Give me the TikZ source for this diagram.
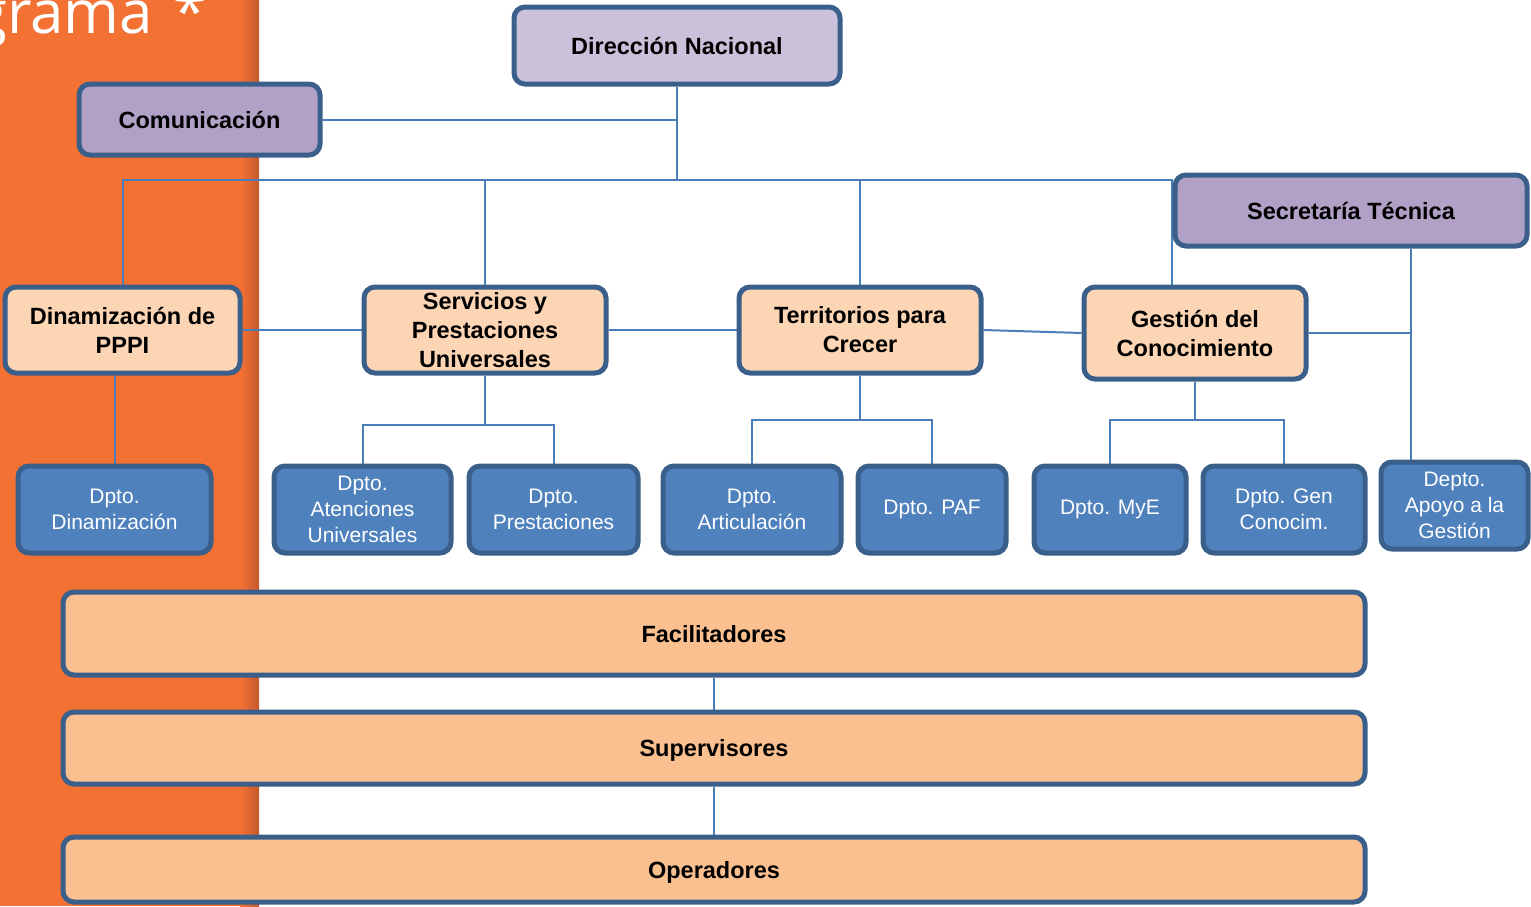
\documentclass[tikz,border=0pt]{standalone}
\usepackage{fontspec}
\setmainfont{Liberation Sans}
\newfontfamily\titlefont{Open Sans}
\definecolor{lav}{HTML}{CCC1DA}
\definecolor{purp}{HTML}{B2A1C7}
\definecolor{peach}{HTML}{FCD5B5}
\definecolor{deptc}{HTML}{4F81BD}
\definecolor{barc}{HTML}{FAC090}
\definecolor{bordc}{HTML}{3A5F8B}
\definecolor{linkc}{HTML}{4A7EBB}
\definecolor{orng}{HTML}{F47134}
\definecolor{orngdk}{HTML}{C45A2C}
\pgfdeclarelayer{bg}
\pgfsetlayers{bg,main}
\newlength\glyphgw
\newcommand\titlesize{\titlefont\fontsize{60}{60}\selectfont}
\tikzset{
  box/.style={draw=bordc, line width=5pt, rounded corners=11pt, inner sep=0pt, align=center},
  topbox/.style={box, fill=lav, font=\bfseries\fontsize{23.5}{29}\selectfont},
  sidebox/.style={box, fill=purp, font=\bfseries\fontsize{23.5}{29}\selectfont},
  unitbox/.style={box, fill=peach, font=\bfseries\fontsize{23.5}{29}\selectfont},
  deptbox/.style={box, fill=deptc, text=white, font=\fontsize{21}{26}\selectfont},
  barbox/.style={box, fill=barc, font=\bfseries\fontsize{23.5}{29}\selectfont, text depth=-3pt},
  link/.style={draw=linkc, line width=2pt}
}
\begin{document}
\settowidth\glyphgw{\titlesize g}%
\pgfmathsetmacro{\titlex}{7-\glyphgw}%
\begin{tikzpicture}[x=1pt,y=-1pt]
\useasboundingbox (0,0) rectangle (1531,906);
\clip (0,0) rectangle (1531,906);
% nodes
\node[topbox, minimum width=326pt, minimum height=77pt] (dn) at (677,45.5) {Dirección Nacional};
\node[sidebox, minimum width=241pt, minimum height=71pt] (com) at (199.5,119.5) {Comunicación};
\node[sidebox, minimum width=352pt, minimum height=71pt] (sec) at (1351,210.5) {Secretaría Técnica};
\node[unitbox, minimum width=235pt, minimum height=86pt] (din) at (122.5,330) {Dinamización de\\PPPI};
\node[unitbox, minimum width=242pt, minimum height=86pt] (ser) at (485,330) {Servicios y\\Prestaciones\\Universales};
\node[unitbox, minimum width=242pt, minimum height=86pt] (ter) at (860,330) {Territorios para\\Crecer};
\node[unitbox, minimum width=222pt, minimum height=92pt] (ges) at (1195,333) {Gestión del\\Conocimiento};
\node[deptbox, minimum width=193pt, minimum height=87pt] (d1) at (114.5,509.5) {Dpto.\\Dinamización};
\node[deptbox, minimum width=177pt, minimum height=87pt] (d2) at (362.5,509.5) {Dpto.\\Atenciones\\Universales};
\node[deptbox, minimum width=169pt, minimum height=87pt] (d3) at (553.5,509.5) {Dpto.\\Prestaciones};
\node[deptbox, minimum width=178pt, minimum height=87pt] (d4) at (752,509.5) {Dpto.\\Articulación};
\node[deptbox, minimum width=148pt, minimum height=87pt] (d5) at (932,509.5) {Dpto. PAF};
\node[deptbox, minimum width=152pt, minimum height=87pt] (d6) at (1110,509.5) {Dpto. MyE};
\node[deptbox, minimum width=162pt, minimum height=87pt] (d7) at (1284,509.5) {Dpto. Gen\\Conocim.};
\node[deptbox, minimum width=147pt, minimum height=87pt] (d8) at (1454.5,505.5) {Depto.\\Apoyo a la\\Gestión};
\node[barbox, minimum width=1302pt, minimum height=83pt] (fac) at (714,633.5) {Facilitadores};
\node[barbox, minimum width=1302pt, minimum height=72pt] (sup) at (714,748) {Supervisores};
\node[barbox, minimum width=1302pt, minimum height=65pt] (ope) at (714,869.5) {Operadores};
% background and connectors
\begin{pgfonlayer}{bg}
\fill[orng] (0,0) rectangle (241,906);
\shade[left color=orng, right color=orngdk] (240,0) rectangle (259,906);
\node[anchor=base west, inner sep=0pt, text=white, font=\titlesize] (title) at (\titlex,33) {grama\hspace{0.35em}*};
\coordinate (tl) at (122.5,180);
\coordinate (tr) at (1172,180);
\coordinate (sx) at (1411,0);
\draw[link] (din.north) -- (tl) -- (tr) -- (tr |- ges.north);
\draw[link] (dn.south) -- (dn.south |- tl);
\draw[link] (com.east) -- (com.east -| dn.south);
\draw[link] (ser.north) -- (ser.north |- tl);
\draw[link] (ter.north) -- (ter.north |- tl);
\draw[link] (din.east) -- (ser.west);
\draw[link] (ser.east) -- (ter.west);
\draw[link] (ter.east) -- (ges.west);
\draw[link] (ges.east) -- (sx |- ges.east);
\draw[link] (sx |- sec.south) -- (sx |- d8.north);
\draw[link] (d1.north |- din.south) -- (d1.north);
\draw[link] (ser.south) -- (ser.south |- 0,425) -| (d2.north);
\draw[link] (ser.south |- 0,425) -| (d3.north);
\draw[link] (ter.south) -- (ter.south |- 0,420) -| (d4.north);
\draw[link] (ter.south |- 0,420) -| (d5.north);
\draw[link] (ges.south) -- (ges.south |- 0,420) -| (d6.north);
\draw[link] (ges.south |- 0,420) -| (d7.north);
\draw[link] (fac.south) -- (sup.north);
\draw[link] (sup.south) -- (ope.north);
\end{pgfonlayer}
\end{tikzpicture}
\end{document}
